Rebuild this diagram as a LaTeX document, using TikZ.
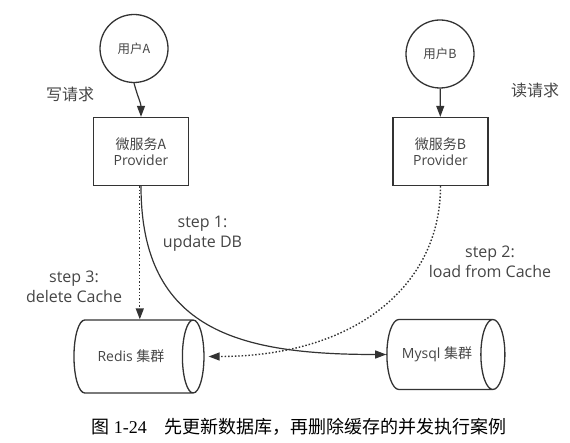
\documentclass[tikz,border=0pt]{standalone}
\usepackage{fontspec}
\setmainfont{Open Sans}
\newfontfamily\cjk{Noto Sans CJK SC}
\newfontfamily\capfont{Liberation Serif}
\usepackage{tikz}
\usetikzlibrary{shapes,arrows.meta}
\definecolor{ink}{HTML}{333333}
\definecolor{txt}{HTML}{454545}
\tikzstyle{every edge}=[draw=ink,line width=1.2pt]
\tikzstyle{user}=[circle,draw=ink,line width=1.3pt,minimum size=68pt,inner sep=0pt,text=txt,font=\fontsize{12.5}{15}\selectfont\cjk]
\tikzstyle{svc}=[rectangle,draw=ink,line width=1.3pt,minimum width=95pt,minimum height=68pt,align=center,text=txt,font=\fontsize{14}{16}\selectfont]
\tikzstyle{db}=[cylinder,draw=ink,line width=1.3pt,aspect=1.1,text=txt,font=\fontsize{14}{17}\selectfont]
\tikzstyle{lbl}=[align=center,text=txt,font=\fontsize{16}{20}\selectfont]
\tikzstyle{dots}=[dash pattern=on 1.5pt off 1.9pt]

\begin{document}
\begin{tikzpicture}[x=1pt,y=-1pt,>={Triangle[length=11pt,width=8pt]}]
  \useasboundingbox (0,0) rectangle (570,443);
  %% utilisateurs et services
  \node[user] (UA) at (134,48.5) {用户A};
  \node[user] (UB) at (440,54) {用户B};
  \node[svc] (PA) at (141,151.5) {{\cjk 微服务A}\\Provider};
  \node[svc] (PB) at (440.5,151.5) {{\cjk 微服务B}\\Provider};
  \node[lbl] (LW) at (70,94) {\cjk 写请求};
  \node[lbl] (LR) at (535,90) {\cjk 读请求};

  % clusters
  \node[db,minimum height=130pt,minimum width=73pt] (RC) at (131,356.5) {Redis {\cjk 集群}};
  \node[db,minimum height=118pt,minimum width=70pt] (MC) at (437,354.5) {Mysql {\cjk 集群}};

  % etapes
  \node[lbl] (S1) at (202.5,233.3) {step 1:\\update DB};
  \node[lbl] (S2) at (490,261.7) {step 2:\\load from Cache};
  \node[lbl] (S3) at (74,286.6) {step 3:\\delete Cache};

  \path (UA.south) edge[->,out=-75,in=90] (PA.north)
  (UB) edge[->] (PB);

  \draw[ink,line width=1.2pt,->] (PA.south) .. controls +(0,145) and +(-146,0) .. (MC.west);
  \draw[ink,line width=1.4pt,dots,->] (PA.-92) -- (PA.-92 |- RC.north);
  \draw[ink,line width=1.4pt,dots,->,shorten >=4pt] (PB.south) .. controls +(0,100) and +(150,0) .. (RC.east);

  % legende
  \node (cap) at (299,427) {\fontsize{18}{20}\selectfont{\cjk 图} {\capfont 1-24}\quad{\cjk 先更新数据库，再删除缓存的并发执行案例}};
\end{tikzpicture}
\end{document}
